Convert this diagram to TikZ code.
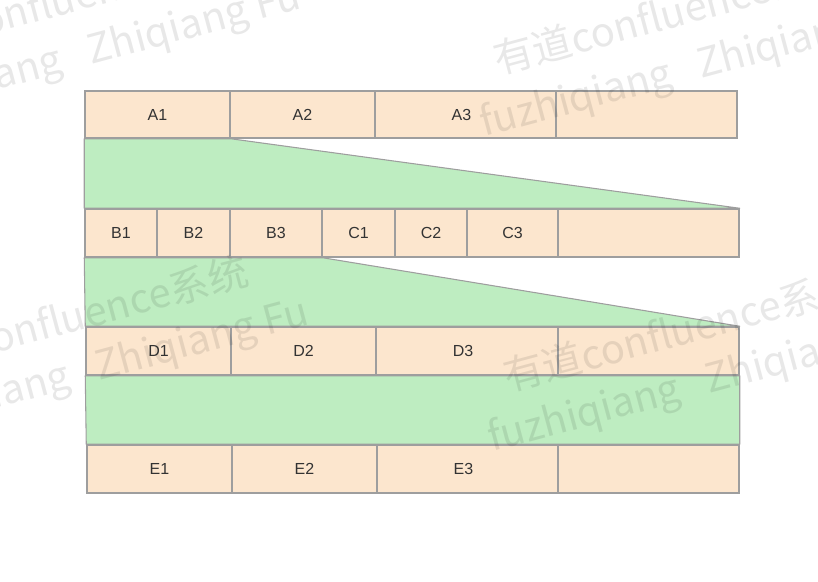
\documentclass[tikz,border=0pt]{standalone}
\usepackage{fontspec}
\setmainfont{Liberation Sans}
\newfontfamily\wmfont{Noto Sans CJK SC}
\usetikzlibrary{fit}
\definecolor{peach}{RGB}{252,230,206}
\definecolor{mint}{RGB}{190,237,193}
\definecolor{edge}{RGB}{158,158,158}
\definecolor{txt}{RGB}{51,51,51}
\begin{document}
\begin{tikzpicture}[x=0.75pt,y=-0.75pt,
  cellbox/.style={draw=edge, fill=peach, line width=1.1pt, inner sep=0pt},
  celltext/.style={text=txt, font=\fontsize{12}{14}\selectfont, inner sep=0pt},
  band/.style={fill=mint, draw=edge, line width=0.8pt, line join=round},
  wm/.style={text=black, text opacity=0.09, font=\wmfont\fontsize{30}{33}\selectfont,
    rotate=15, anchor=base west, inner sep=0pt}]
\useasboundingbox (0,0) rectangle (818,582);

% cells row A
\node[cellbox, fit={(85,91) (230,138)}] (A1) {};
\node[cellbox, fit={(230,91) (375,138)}] (A2) {};
\node[cellbox, fit={(375,91) (556,138)}] (A3) {};
\node[cellbox, fit={(556,91) (737,138)}] (A4) {};
% row B
\node[cellbox, fit={(85,209) (157,257)}] (B1) {};
\node[cellbox, fit={(157,209) (230,257)}] (B2) {};
\node[cellbox, fit={(230,209) (322,257)}] (B3) {};
\node[cellbox, fit={(322,209) (395,257)}] (C1) {};
\node[cellbox, fit={(395,209) (467,257)}] (C2) {};
\node[cellbox, fit={(467,209) (558,257)}] (C3) {};
\node[cellbox, fit={(558,209) (739,257)}] (B4) {};
% row D
\node[cellbox, fit={(86,327) (231,375)}] (D1) {};
\node[cellbox, fit={(231,327) (376,375)}] (D2) {};
\node[cellbox, fit={(376,327) (558,375)}] (D3) {};
\node[cellbox, fit={(558,327) (739,375)}] (D4) {};
% row E
\node[cellbox, fit={(87,445) (232,493)}] (E1) {};
\node[cellbox, fit={(232,445) (377,493)}] (E2) {};
\node[cellbox, fit={(377,445) (558,493)}] (E3) {};
\node[cellbox, fit={(558,445) (739,493)}] (E4) {};

% green bands
\path[band] (A1.south west) -- (A1.south east) -- (B4.north east) -- (B1.north west) -- cycle;
\path[band] (B1.south west) -- (B3.south east) -- (D4.north east) -- (D1.north west) -- cycle;
\path[band] (D1.south west) -- (D4.south east) -- (E4.north east) -- (E1.north west) -- cycle;

% redraw cell borders on top of bands
\foreach \n in {A1,A2,A3,A4,B1,B2,B3,C1,C2,C3,B4,D1,D2,D3,D4,E1,E2,E3,E4}
  \draw[draw=edge, line width=1.1pt] (\n.south west) rectangle (\n.north east);

% cell labels
\foreach \n/\s in {A1/0,A2/0,A3/-3,B1/0,B2/0,B3/0,C1/0,C2/0,C3/0,D1/0,D2/0,D3/-3,E1/0,E2/0,E3/-3}
  \node[celltext] (t\n) at ([xshift=\s pt]\n.center) {\n};

% watermarks
\node[wm] (w1a) at (498,75) {有道confluence系统};
\node[wm] (w1b) at (484,137) {fuzhiqiang\hspace{0.7em}Zhiqiang Fu};
\node[wm] (w2a) at (508,392) {有道confluence系统};
\node[wm] (w2b) at (492,452) {fuzhiqiang\hspace{0.7em}Zhiqiang Fu};
\node[wm] (w3a) at (-112,62) {有道confluence系统};
\node[wm] (w3b) at (-126,123) {fuzhiqiang\hspace{0.7em}Zhiqiang Fu};
\node[wm] (w4a) at (-102,379) {有道confluence系统};
\node[wm] (w4b) at (-118,439) {fuzhiqiang\hspace{0.7em}Zhiqiang Fu};
\end{tikzpicture}
\end{document}
